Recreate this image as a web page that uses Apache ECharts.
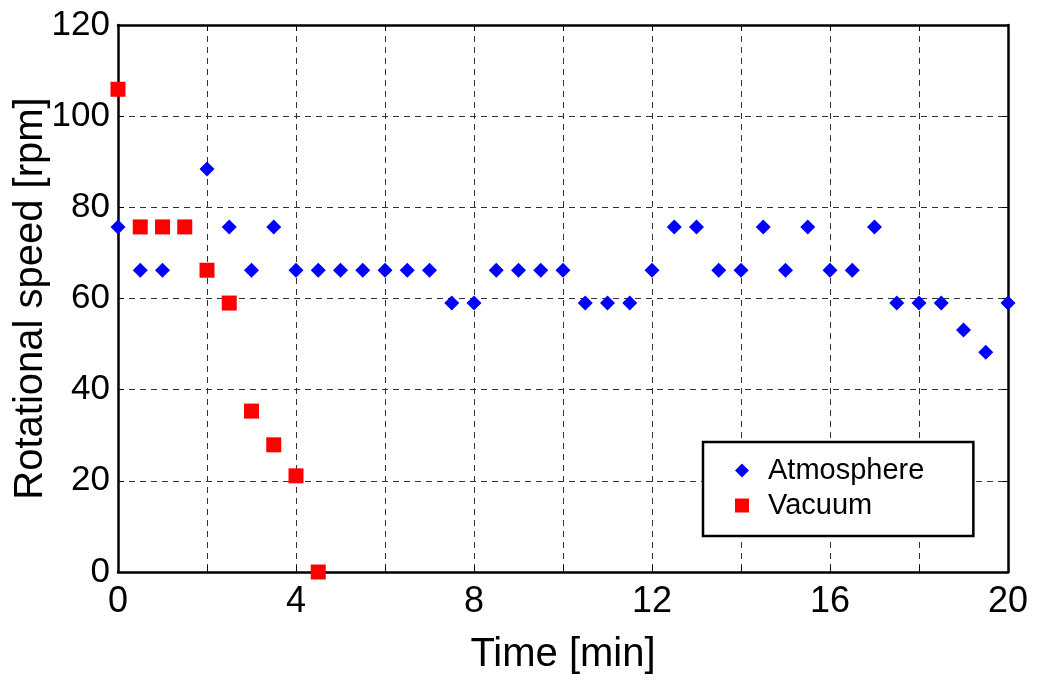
<!DOCTYPE html>
<html><head><meta charset="utf-8">
<script src="https://cdn.jsdelivr.net/npm/echarts@6/dist/echarts.min.js"></script>
<style>html,body{margin:0;padding:0;background:#fff}#c{width:1038px;height:684px}</style>
</head><body><div id="c"></div>
<script>
const atmTime = [0,0.5,1,1.5,2,2.5,3,3.5,4,4.5,5,5.5,6,6.5,7,7.5,8,8.5,9,9.5,10,10.5,11,11.5,12,12.5,13,13.5,14,14.5,15,15.5,16,16.5,17,17.5,18,18.5,19,19.5,20];
const atmSpeed = [75.7,66.2,66.2,75.7,88.4,75.7,66.2,75.7,66.2,66.2,66.2,66.2,66.2,66.2,66.2,59,59,66.2,66.2,66.2,66.2,59,59,59,66.2,75.7,75.7,66.2,66.2,75.7,66.2,75.7,66.2,66.2,75.7,59,59,59,53.1,48.2,59];
const vacTime = [0,0.5,1,1.5,2,2.5,3,3.5,4,4.5];
const vacSpeed = [105.9,75.7,75.7,75.7,66.2,59,35.3,27.9,21.1,0];
const xTicks = [0,4,8,12,16,20];
const yTicks = [0,20,40,60,80,100,120];

const font = 'Liberation Sans, Arial, sans-serif';
const chart = echarts.init(document.getElementById('c'));
const split = {show:true, lineStyle:{color:'#333', width:1, type:[6,5]}};
chart.setOption({
  animation:false,
  grid:{left:118, right:30, top:25, bottom:112, show:false, containLabel:false, outerBoundsMode:'none'},
  xAxis:[{
    type:'value', min:0, max:20, interval:2,
    name:'Time [min]', nameLocation:'middle', nameGap:63, nameMoveOverlap:false,
    nameTextStyle:{fontFamily:font, fontSize:40, color:'#000'},
    axisLine:{show:true, onZero:false, lineStyle:{color:'#000', width:2.5}},
    axisTick:{show:true, inside:true, length:6, lineStyle:{color:'#000'}},
    axisLabel:{fontFamily:font, fontSize:36, color:'#000', margin:12,
      formatter:v=>xTicks.includes(v)?String(v):''},
    splitLine:split
  },{
    type:'value', min:0, max:20, interval:2, position:'top',
    axisLine:{show:true, onZero:false, lineStyle:{color:'#000', width:2.5}},
    axisTick:{show:true, inside:true, length:6, lineStyle:{color:'#000'}},
    axisLabel:{show:false}, splitLine:{show:false}
  }],
  yAxis:[{
    type:'value', min:0, max:120, interval:20,
    name:'Rotational speed [rpm]', nameLocation:'middle', nameGap:67, nameRotate:90, nameMoveOverlap:false,
    nameTextStyle:{fontFamily:font, fontSize:40, color:'#000'},
    axisLine:{show:true, onZero:false, lineStyle:{color:'#000', width:2.5}},
    axisTick:{show:true, inside:true, length:6, lineStyle:{color:'#000'}},
    axisLabel:{fontFamily:font, fontSize:35, color:'#000', margin:8,
      formatter:v=>yTicks.includes(v)?String(v):''},
    splitLine:split
  },{
    type:'value', min:0, max:120, interval:20, position:'right',
    axisLine:{show:true, onZero:false, lineStyle:{color:'#000', width:2.5}},
    axisTick:{show:true, inside:true, length:6, lineStyle:{color:'#000'}},
    axisLabel:{show:false}, splitLine:{show:false}
  }],
  legend:{
    left:703, top:442, orient:'vertical',
    backgroundColor:'#fff', borderColor:'#000', borderWidth:2.5,
    padding:[14,49,16,32], itemWidth:14, itemHeight:14, itemGap:6,
    textStyle:{fontFamily:font, fontSize:29, color:'#000', padding:[0,0,0,14]},
    data:[{name:'Atmosphere', icon:'diamond'},{name:'Vacuum', icon:'rect'}]
  },
  series:[{
    name:'Atmosphere', type:'scatter', symbol:'diamond', symbolSize:[15,15],
    itemStyle:{color:'#0000ff', opacity:1}, clip:false, z:3,
    data:atmTime.map((t,i)=>[t,atmSpeed[i]])
  },{
    name:'Vacuum', type:'scatter', symbol:'rect', symbolSize:15,
    itemStyle:{color:'#ff0000', opacity:1}, clip:false, z:5,
    data:vacTime.map((t,i)=>[t,vacSpeed[i]])
  }]
});
</script></body></html>
